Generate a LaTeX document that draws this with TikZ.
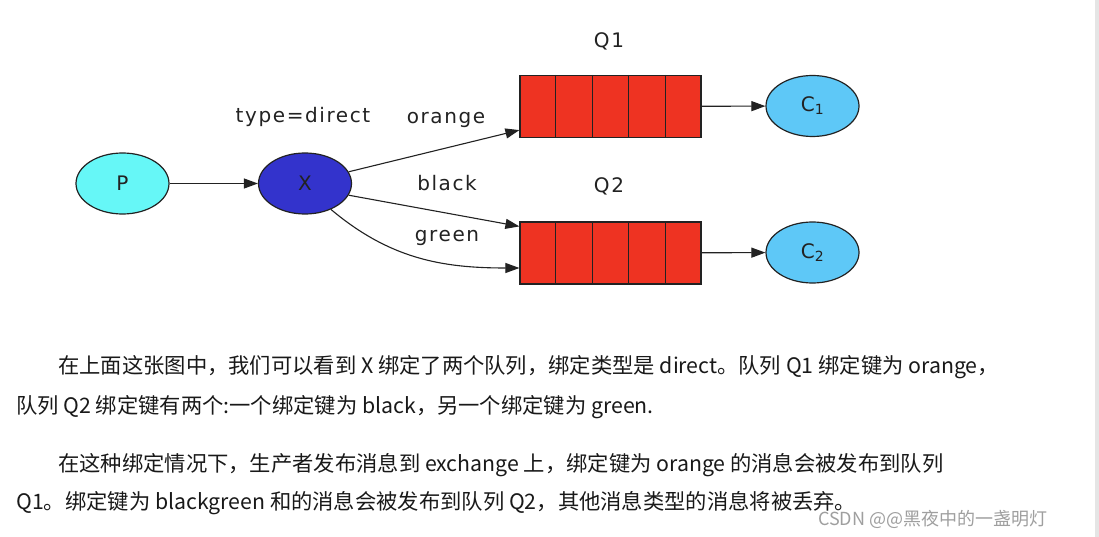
\documentclass[tikz,border=0pt]{standalone}
\usepackage{fontspec}
\setmainfont{DejaVu Sans}
\newfontfamily\diagfont[LetterSpace=8]{DejaVu Sans}
\newfontfamily\cjk{Noto Sans CJK SC}
\usetikzlibrary{positioning,shapes.geometric,arrows.meta,calc}

\definecolor{producer}{HTML}{66F7F7}
\definecolor{exchange}{HTML}{3333CC}
\definecolor{queuered}{HTML}{EE3322}
\definecolor{consumer}{HTML}{5EC8F7}
\definecolor{inkgray}{HTML}{222222}

\begin{document}
\begin{tikzpicture}[x=1pt,y=-1pt,
ellipsenode/.style={ellipse, draw=inkgray, line width=1.2pt, minimum width=93pt, minimum height=61pt, inner sep=0pt, font=\fontsize{20}{24}\selectfont, text=inkgray},
queuenode/.style={rectangle, draw=inkgray, fill=queuered, line width=1.2pt, minimum width=181pt, minimum height=62pt, inner sep=0pt},
labelnode/.style={font=\diagfont\fontsize{20}{24}\selectfont, text=inkgray},
textline/.style={anchor=base west, inner sep=0pt, font=\cjk\fontsize{21.3}{25}\selectfont, text=black!90},
arrowline/.style={-{Triangle[length=14pt,width=10pt]}, line width=1.1pt, draw=inkgray},
]
\useasboundingbox (0,0) rectangle (1099,537);
\fill[white] (0,0) rectangle (1099,537);
\fill[gray!20] (1095,0) rectangle (1099,537);

%Nodes
\node[ellipsenode, fill=producer] (P)  at (122.5,183.5) {P};
\node[ellipsenode, fill=exchange] (X)  at (305,183.5)   {X};
\node[queuenode]                  (Q1) at (610.5,106.5) {};
\node[queuenode]                  (Q2) at (610.5,253)   {};
\node[ellipsenode, fill=consumer] (C1) at (812.5,106)   {C\textsubscript{1}};
\node[ellipsenode, fill=consumer] (C2) at (812.5,252.5) {C\textsubscript{2}};

%Labels
\node[labelnode] (typelabel)   at (303,117) {type=direct};
\node[labelnode] (q1label)     at (609,41)  {Q1};
\node[labelnode] (q2label)     at (609,186) {Q2};
\node[labelnode] (orangelabel) at (446,120) {orange};
\node[labelnode] (blacklabel)  at (447,183) {black};
\node[labelnode] (greenlabel)  at (447,238) {green};

%Cells
\foreach \q in {Q1,Q2}
  \foreach \i in {1,...,4}
    \draw[line width=1.2pt, inkgray] ($(\q.north west)!\i/5!(\q.north east)$) -- ($(\q.south west)!\i/5!(\q.south east)$);

%Lines
\draw[arrowline] (P) -- (X);
\draw[arrowline] (X.15) -- ([yshift=8pt]Q1.south west);
\draw[arrowline] (X.-15) -- ([yshift=-5pt]Q2.north west);
\draw[arrowline] (X.-45) to[out=-40,in=180] ([yshift=-15pt]Q2.west);
\draw[arrowline] (Q1) -- (C1);
\draw[arrowline] (Q2) -- (C2);

%Text
\node[textline] (line1) at (58,373) {在上面这张图中，我们可以看到 X 绑定了两个队列，绑定类型是 direct。队列 Q1 绑定键为 orange，};
\node[textline] (line2) at (16,413) {队列 Q2 绑定键有两个:一个绑定键为 black，另一个绑定键为 green.};
\node[textline] (line3) at (58,471) {在这种绑定情况下，生产者发布消息到 exchange 上，绑定键为 orange 的消息会被发布到队列};
\node[textline] (line4) at (16,509) {Q1。绑定键为 blackgreen 和的消息会被发布到队列 Q2，其他消息类型的消息将被丢弃。};
\node[anchor=base west, inner sep=0pt, font=\cjk\fontsize{18}{22}\selectfont, text=gray!75] (mark) at (818,525) {CSDN @@黑夜中的一盏明灯};
\end{tikzpicture}
\end{document}
